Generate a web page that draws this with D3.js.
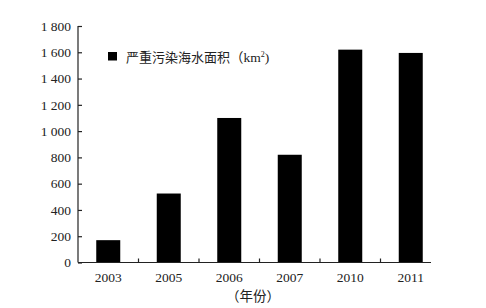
<!DOCTYPE html>
<html><head><meta charset="utf-8">
<script src="https://cdn.jsdelivr.net/npm/d3@7"></script>
<style>body{margin:0;background:#fff}svg{display:block}</style>
</head><body>
<svg id="c" width="486" height="308"></svg>
<script>
const categories = ["2003","2005","2006","2007","2010","2011"];
const values = [170, 525, 1100, 820, 1620, 1595];
const yTicks = [0,200,400,600,800,1000,1200,1400,1600,1800];
const seriesName = "严重污染海水面积";
const unitName = "（km";
const xTitle = "（年份）";

(function(){
const svg = d3.select("#c");
const mLeft = 78, mRight = 441, mTop = 26, mBottom = 262.5;
const x = d3.scaleBand().domain(categories).range([mLeft, mRight]).paddingInner(0).paddingOuter(0);
const y = d3.scaleLinear().domain([0,1800]).range([mBottom, mTop]);
const serif = "'Liberation Serif','Times New Roman','Noto Sans CJK SC',serif";
const fmt = v => { const s = String(v); return s.length>3 ? s.slice(0,-3)+" "+s.slice(-3) : s; };

// bars
svg.append("g").selectAll("rect").data(values).join("rect")
  .attr("x", (d,i)=>x(categories[i]) + x.bandwidth()/2 - 12)
  .attr("width", 24)
  .attr("y", d=>y(d))
  .attr("height", d=>y(0)-y(d))
  .attr("fill","#000");

// y axis
const ya = svg.append("g").attr("transform",`translate(${mLeft},0)`)
  .call(d3.axisLeft(y).tickValues(yTicks).tickSize(-4).tickPadding(7).tickFormat(fmt));
ya.select(".domain").attr("d", `M0,${mTop}V${mBottom}`).attr("stroke","#222").attr("stroke-width",1.2);
ya.selectAll(".tick line").attr("stroke","#222").attr("stroke-width",1.2);
ya.selectAll(".tick text").attr("font-family",serif).attr("font-size",13.5).attr("fill","#222");

// x axis
const xa = svg.append("g").attr("transform",`translate(0,${mBottom})`)
  .call(d3.axisBottom(x).tickSize(0).tickPadding(10));
xa.select(".domain").attr("d", `M${mLeft},0H431`).attr("stroke","#222").attr("stroke-width",1.2);
xa.selectAll(".tick text").attr("font-family",serif).attr("font-size",13.5).attr("fill","#222");
xa.selectAll("line.sep").data(categories.slice(1)).join("line").attr("class","sep")
  .attr("x1",d=>x(d)).attr("x2",d=>x(d)).attr("y1",0).attr("y2",-4)
  .attr("stroke","#222").attr("stroke-width",1.2);

svg.append("text").attr("x", 253).attr("y", 301).attr("text-anchor","middle")
  .attr("font-family",serif).attr("font-size",13.5).attr("fill","#222").text(xTitle);

// legend
svg.append("rect").attr("x",108).attr("y",52).attr("width",9).attr("height",8.5).attr("fill","#000");
const lt = svg.append("text").attr("x",126).attr("y",61.5)
  .attr("font-family",serif).attr("font-size",13).attr("fill","#222");
lt.append("tspan").text(seriesName);
lt.append("tspan").attr("font-size",13.5).text(unitName);
lt.append("tspan").attr("font-size",8).attr("dy",-5).text("2");
lt.append("tspan").attr("font-size",13.5).attr("dy",5).text(")");
})();
</script>
</body></html>
